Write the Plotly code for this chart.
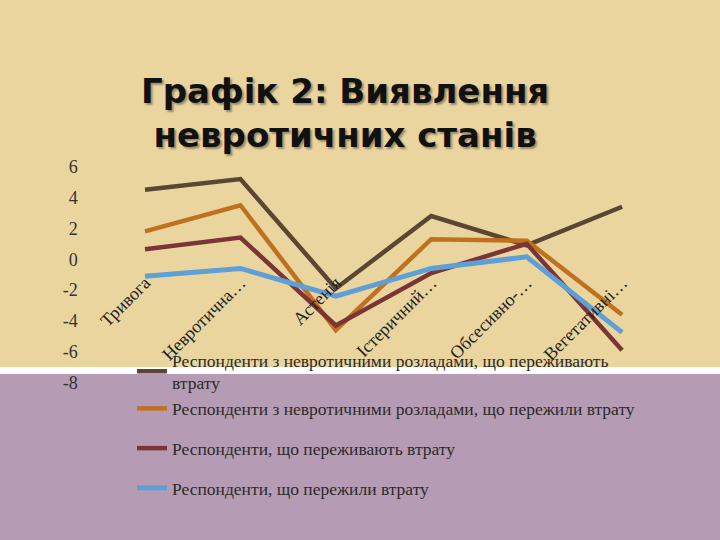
import plotly.graph_objects as go

categories = ["Тривога", "Невротична…", "Астенія", "Істеричний…", "Обсесивно-…", "Вегетативні…"]

series_names = [
    "Респонденти з невротичними розладами, що переживають<br>втрату",
    "Респонденти з невротичними розладами, що пережили втрату",
    "Респонденти, що переживають втрату",
    "Респонденти, що пережили втрату",
]
neuro_experiencing = [4.5, 5.2, -1.9, 2.8, 0.9, 3.4]
neuro_survived = [1.8, 3.5, -4.6, 1.3, 1.2, -3.6]
experiencing = [0.65, 1.4, -4.3, -0.9, 1.0, -5.9]
survived = [-1.1, -0.6, -2.4, -0.6, 0.15, -4.75]

series_values = [neuro_experiencing, neuro_survived, experiencing, survived]
series_colors = ["#5a4633", "#c0711f", "#7a3636", "#5f9fd8"]
series_widths = [4.5, 4.5, 4.5, 5]
series_groups = ["g1", "g1", "g2", "g3"]

y_tick_vals = [6, 4, 2, 0, -2, -4, -6, -8]
y_tick_text = ["6", "4", "2", "0", "-2", "-4", "-6", "-8"]

title_text = "Графік 2: Виявлення<br>невротичних станів"

W, H = 720, 540

fig = go.Figure()
for i, (name, vals) in enumerate(zip(series_names, series_values)):
    fig.add_trace(go.Scatter(
        x=categories, y=vals, name=name, mode="lines",
        line=dict(color=series_colors[i], width=series_widths[i]),
        legendgroup=series_groups[i],
    ))

tan = "#ead59f"
purple = "#b59cb4"
shapes = [
    dict(type="rect", xref="paper", yref="paper", x0=0, x1=1, y0=0, y1=1,
         fillcolor=tan, line_width=0, layer="below"),
    dict(type="rect", xref="paper", yref="paper", x0=0, x1=1, y0=0, y1=(H - 374) / H,
         fillcolor=purple, line_width=0, layer="below"),
    dict(type="rect", xref="paper", yref="paper", x0=0, x1=1, y0=(H - 374) / H, y1=(H - 367) / H,
         fillcolor="#ffffff", line_width=0, layer="below"),
]

ydom = [(H - 382.5) / H, (H - 166.7) / H]
zero_pos = ydom[0] + (0 - (-8)) / 14 * (ydom[1] - ydom[0])

fig.update_layout(
    width=W, height=H,
    margin=dict(l=0, r=0, t=0, b=0, pad=0),
    paper_bgcolor=purple,
    plot_bgcolor="rgba(0,0,0,0)",
    shapes=shapes,
    showlegend=True,
    legend=dict(
        x=132 / W, y=(H - 342) / H, xanchor="left", yanchor="top",
        bgcolor="rgba(0,0,0,0)",
        font=dict(family="Liberation Serif", size=17.5, color="#2b2b2b"),
        tracegroupgap=14,
    ),
    xaxis=dict(
        domain=[97.3 / W, 669.8 / W],
        range=[-0.5, 5.5],
        anchor="free", position=zero_pos,
        automargin=False,
        showgrid=False, zeroline=False, showline=False,
        ticks="outside", ticklen=5, tickcolor="rgba(0,0,0,0)",
        tickangle=-45,
        tickfont=dict(family="Liberation Serif", size=18, color="#222222"),
    ),
    yaxis=dict(
        domain=ydom,
        range=[-8, 6],
        automargin=False,
        showgrid=False, zeroline=False, showline=False,
        tickvals=y_tick_vals, ticktext=y_tick_text,
        ticks="outside", ticklen=15, tickcolor="rgba(0,0,0,0)",
        tickfont=dict(family="Liberation Serif", size=18, color="#333333"),
    ),
    annotations=[
        dict(
            text=title_text, xref="paper", yref="paper",
            x=345 / W, y=(H - 113) / H, xanchor="center", yanchor="middle",
            showarrow=False,
            font=dict(family="DejaVu Sans", size=34, color="#111111", weight="bold",
                      shadow="2px 2px 2px #9a8a6a"),
        )
    ],
)

fig.write_html("out.html", config={"displayModeBar": False},
               post_script="document.body.style.margin='0';")
